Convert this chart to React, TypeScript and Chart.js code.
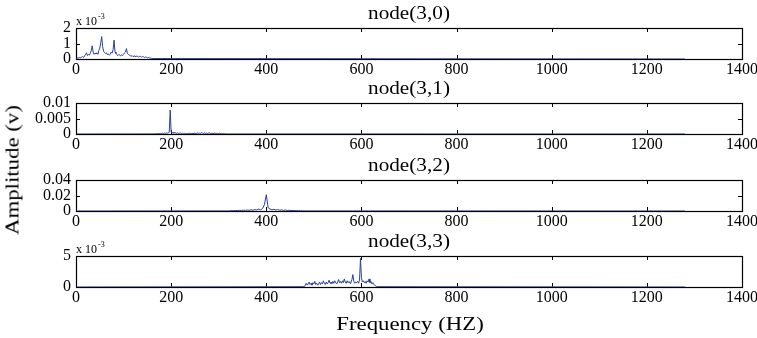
import React, { useEffect, useRef } from 'react';
import { Chart, registerables } from 'chart.js';

Chart.register(...registerables);

// ---------------- data ----------------
const xTicks = [0, 200, 400, 600, 800, 1000, 1200, 1400];
const specEnd = 1280; // last frequency bin of the spectra (Hz)

const titles = ['node(3,0)', 'node(3,1)', 'node(3,2)', 'node(3,3)'];

// node(3,0): bins from 0 Hz, 2 Hz apart (V)
const node30Start = 0;
const node30Step = 2;
const node30Amp = [
  0.00002, 0.00005, 0.00008, 0.00006, 0.0001, 0.00008, 0.00012, 0.00015, 0.0001, 0.0002,
  0.00028, 0.0004, 0.00022, 0.0003, 0.00025, 0.00035, 0.00055, 0.00085, 0.00045, 0.0003,
  0.00038, 0.00032, 0.0004, 0.0003, 0.00055, 0.0007, 0.00105, 0.00145, 0.0008, 0.0005,
  0.00042, 0.00035, 0.0004, 0.00028, 0.00033, 0.00025, 0.0003, 0.00045, 0.00038, 0.0006,
  0.00122, 0.00045, 0.00035, 0.00028, 0.00022, 0.0003, 0.00025, 0.0002, 0.00028, 0.00022,
  0.0003, 0.0004, 0.00045, 0.00067, 0.00035, 0.0003, 0.00025, 0.00022, 0.00018, 0.00022,
  0.00015, 0.0002, 0.00018, 0.00014, 0.0002, 0.00016, 0.00012, 0.00018, 0.00015, 0.00012,
  0.00016, 0.00014, 0.0001, 0.00013, 0.00011, 0.00008, 0.0001, 0.00007, 0.00006, 0.00005,
  0.00003,
];

// node(3,1): bins from 164 Hz, 2 Hz apart (V)
const node31Start = 164;
const node31Step = 2;
const node31Amp = [
  0.00002, 0.00005, 0.0001, 0.00006, 0.00015, 0.00008, 0.0002, 0.00012, 0.00018, 0.00025,
  0.00015, 0.0003, 0.0002, 0.00035, 0.00022, 0.0004, 0.00055, 0.0077, 0.0006, 0.00035,
  0.0005, 0.00025, 0.00045, 0.0003, 0.0002, 0.00035, 0.00015, 0.00025, 0.00032, 0.00018,
  0.00022, 0.00012, 0.0002, 0.00015, 0.0001, 0.00018, 0.00012, 0.00025, 0.00015, 0.0001,
  0.0002, 0.00015, 0.0003, 0.0002, 0.00012, 0.00025, 0.00035, 0.0002, 0.0003, 0.00022,
  0.0004, 0.00025, 0.00018, 0.00035, 0.0002, 0.0003, 0.00015, 0.00025, 0.0004, 0.0002,
  0.00015, 0.00025, 0.00012, 0.0002, 0.0003, 0.00015, 0.00022, 0.0001, 0.00018, 0.00025,
  0.00012, 0.0002, 0.0001, 0.00015, 0.00008, 0.00012, 0.00006, 0.00004, 0.00001,
];

// node(3,2): bins from 320 Hz, 4 Hz apart (V)
const node32Start = 320;
const node32Step = 4;
const node32Amp = [
  0.0001, 0.0003, 0.0005, 0.0004, 0.0007, 0.0005, 0.0009, 0.0006, 0.001, 0.0008,
  0.0012, 0.0009, 0.0015, 0.001, 0.0018, 0.0013, 0.0025, 0.0015, 0.003, 0.008,
  0.021, 0.004, 0.0025, 0.0015, 0.0022, 0.0012, 0.0018, 0.001, 0.0015, 0.0008,
  0.0012, 0.0007, 0.001, 0.0006, 0.0008, 0.0005, 0.0006, 0.0004, 0.0005, 0.0002,
  0.0001,
];

// node(3,3): bins from 480 Hz, 2 Hz apart (V)
const node33Start = 480;
const node33Step = 2;
const node33Amp = [
  0.00005, 0.0003, 0.0006, 0.0003, 0.0005, 0.0008, 0.0004, 0.0006, 0.0003, 0.0007,
  0.0005, 0.0009, 0.0004, 0.0006, 0.0003, 0.0005, 0.0008, 0.0004, 0.0007, 0.0005,
  0.001, 0.0006, 0.0004, 0.0008, 0.0005, 0.0007, 0.0011, 0.0006, 0.0008, 0.0005,
  0.0009, 0.0006, 0.001, 0.0007, 0.0005, 0.0008, 0.0012, 0.0007, 0.0009, 0.0006,
  0.001, 0.0007, 0.0013, 0.0008, 0.0006, 0.001, 0.0007, 0.0009, 0.0006, 0.0008,
  0.0012, 0.002, 0.0009, 0.0006, 0.0008, 0.0007, 0.0009, 0.0006, 0.0011, 0.0046,
  0.0015, 0.0008, 0.001, 0.0007, 0.0009, 0.0006, 0.001, 0.0008, 0.0013, 0.0007,
  0.0009, 0.0005, 0.0007, 0.0004, 0.0003, 0.0002, 0.00005,
];

const node30YTicks = [0, 0.001, 0.002];
const node30YLabels = ['0', '1', '2'];
const node31YTicks = [0, 0.005, 0.01];
const node31YLabels = ['0', '0.005', '0.01'];
const node32YTicks = [0, 0.02, 0.04];
const node32YLabels = ['0', '0.02', '0.04'];
const node33YTicks = [0, 0.005];
const node33YLabels = ['0', '5'];

const yExponents = ['-3', '', '', '-3'];

// ---------------- layout / style ----------------
const W = 757;
const PLOT_LEFT = 76;
const PLOT_RIGHT = 742;
const PLOT_H = 31;
const TOP_PAD = 28;
const X_AXIS_H = 26;
const CANVAS_H = TOP_PAD + PLOT_H + X_AXIS_H;
const panelTops = [28, 103, 180, 256];
const FONT = '"Liberation Serif", "Times New Roman", serif';
const LINE_COLOR = '#2b3f9e';

type Panel = {
  title: string;
  start: number;
  step: number;
  amp: number[];
  yTicks: number[];
  yLabels: string[];
  exp: string;
};

const panels: Panel[] = [
  { title: titles[0], start: node30Start, step: node30Step, amp: node30Amp, yTicks: node30YTicks, yLabels: node30YLabels, exp: yExponents[0] },
  { title: titles[1], start: node31Start, step: node31Step, amp: node31Amp, yTicks: node31YTicks, yLabels: node31YLabels, exp: yExponents[1] },
  { title: titles[2], start: node32Start, step: node32Step, amp: node32Amp, yTicks: node32YTicks, yLabels: node32YLabels, exp: yExponents[2] },
  { title: titles[3], start: node33Start, step: node33Step, amp: node33Amp, yTicks: node33YTicks, yLabels: node33YLabels, exp: yExponents[3] },
];

function toPoints(p: Panel) {
  const pts: { x: number; y: number }[] = [];
  if (p.start > 0) pts.push({ x: 0, y: 0 });
  p.amp.forEach((a, k) => pts.push({ x: p.start + k * p.step, y: a }));
  pts.push({ x: specEnd, y: 0 });
  return pts;
}

function makeFramePlugin(p: Panel) {
  return {
    id: 'matlabFrame',
    beforeDatasetsDraw(chart: any) {
      const { ctx, chartArea } = chart;
      const { left, right, top, bottom } = chartArea;
      const xs = chart.scales.x;
      const ys = chart.scales.y;
      ctx.save();
      ctx.strokeStyle = '#000';
      ctx.lineWidth = 1.2;
      ctx.strokeRect(Math.round(left) + 0.5, Math.round(top) + 0.5, Math.round(right - left), Math.round(bottom - top));
      const tl = 4;
      ctx.lineWidth = 1;
      ctx.beginPath();
      xTicks.forEach((v) => {
        const x = Math.round(xs.getPixelForValue(v)) + 0.5;
        ctx.moveTo(x, bottom);
        ctx.lineTo(x, bottom - tl);
        ctx.moveTo(x, top);
        ctx.lineTo(x, top + tl);
      });
      p.yTicks.forEach((v) => {
        const y = Math.round(ys.getPixelForValue(v)) + 0.5;
        ctx.moveTo(left, y);
        ctx.lineTo(left + tl, y);
        ctx.moveTo(right, y);
        ctx.lineTo(right - tl, y);
      });
      ctx.stroke();
      ctx.restore();
    },
    afterDraw(chart: any) {
      const { ctx, chartArea } = chart;
      const { left, right, top } = chartArea;
      ctx.save();
      ctx.fillStyle = '#000';
      ctx.font = `18px ${FONT}`;
      ctx.textAlign = 'center';
      ctx.textBaseline = 'alphabetic';
      ctx.translate((left + right) / 2, top - 9);
      ctx.scale(1.18, 1);
      ctx.fillText(p.title, 0, 0);
      ctx.restore();
      if (p.exp) {
        ctx.save();
        ctx.fillStyle = '#000';
        ctx.textAlign = 'left';
        ctx.textBaseline = 'alphabetic';
        ctx.font = `12px ${FONT}`;
        const base = 'x 10';
        ctx.fillText(base, left, top - 3);
        const w = ctx.measureText(base).width;
        ctx.font = `8px ${FONT}`;
        ctx.fillText(p.exp, left + w + 1, top - 9);
        ctx.restore();
      }
    },
  };
}

export default function App() {
  const canvases = useRef<(HTMLCanvasElement | null)[]>([]);

  useEffect(() => {
    const charts = panels.map((p, i) => {
      const canvas = canvases.current[i] as HTMLCanvasElement;
      return new Chart(canvas, {
        type: 'line',
        data: {
          datasets: [
            {
              data: toPoints(p),
              borderColor: LINE_COLOR,
              borderWidth: 1,
              pointRadius: 0,
              fill: false,
              tension: 0,
            },
          ],
        },
        options: {
          animation: false,
          responsive: false,
          maintainAspectRatio: false,
          devicePixelRatio: 1,
          layout: { padding: { top: TOP_PAD, right: W - PLOT_RIGHT, bottom: 0, left: 0 } },
          plugins: {
            legend: { display: false },
            title: { display: false },
            tooltip: { enabled: false },
          },
          scales: {
            x: {
              type: 'linear',
              min: 0,
              max: 1400,
              grid: { display: false, drawTicks: false },
              border: { display: false },
              ticks: {
                padding: 1,
                maxRotation: 0,
                autoSkip: false,
                color: '#000',
                font: { family: FONT, size: 16 },
                callback: (v: any) => String(v),
              },
              afterBuildTicks: (s: any) => {
                s.ticks = xTicks.map((v) => ({ value: v }));
              },
              afterFit: (s: any) => {
                s.height = X_AXIS_H;
                s.paddingLeft = 0;
                s.paddingRight = 0;
              },
            },
            y: {
              type: 'linear',
              min: 0,
              max: p.yTicks[p.yTicks.length - 1],
              grid: { display: false, drawTicks: false },
              border: { display: false },
              ticks: {
                padding: 5,
                autoSkip: false,
                color: '#000',
                font: { family: FONT, size: 16, lineHeight: 1 },
                callback: (_v: any, idx: number) => p.yLabels[idx],
              },
              afterBuildTicks: (s: any) => {
                s.ticks = p.yTicks.map((v) => ({ value: v }));
              },
              afterFit: (s: any) => {
                s.width = PLOT_LEFT;
                s.paddingTop = 0;
                s.paddingBottom = 0;
              },
            },
          },
        },
        plugins: [makeFramePlugin(p)],
      } as any);
    });
    return () => charts.forEach((c) => c.destroy());
  }, []);

  return (
    <div
      style={{
        position: 'fixed',
        left: 0,
        top: 0,
        width: W,
        height: 338,
        background: '#fff',
        overflow: 'hidden',
        fontFamily: FONT,
      }}
    >
      {panels.map((p, i) => (
        <canvas
          key={p.title}
          ref={(el) => {
            canvases.current[i] = el;
          }}
          width={W}
          height={CANVAS_H}
          style={{ position: 'absolute', left: 0, top: panelTops[i] - TOP_PAD, width: W, height: CANVAS_H }}
        />
      ))}
      <div
        style={{
          position: 'absolute',
          left: 12,
          top: 170,
          fontSize: 19,
          lineHeight: '19px',
          whiteSpace: 'nowrap',
          color: '#000',
          transform: 'translate(-50%, -50%) rotate(-90deg) scaleX(1.2)',
        }}
      >
        Amplitude (v)
      </div>
      <div
        style={{
          position: 'absolute',
          left: 410,
          top: 323,
          fontSize: 19,
          lineHeight: '19px',
          whiteSpace: 'nowrap',
          color: '#000',
          transform: 'translate(-50%, -50%) scaleX(1.2)',
        }}
      >
        Frequency (HZ)
      </div>
    </div>
  );
}
